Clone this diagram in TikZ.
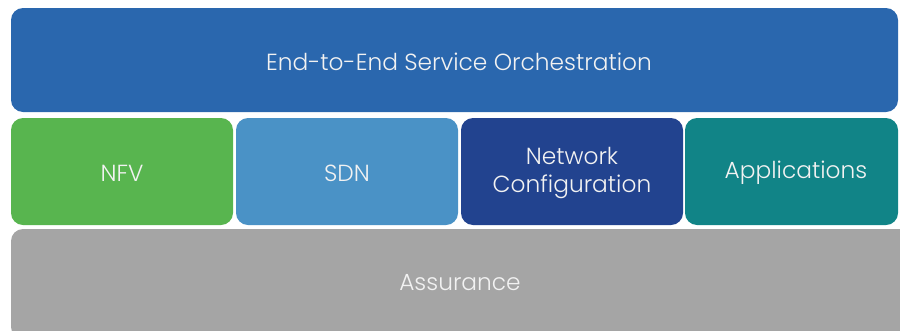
\documentclass[tikz,border=0pt]{standalone}
\usepackage{fontspec}
\setmainfont{Poppins Light}
\definecolor{orch}{HTML}{2A67AE}
\definecolor{nfv}{HTML}{58B54F}
\definecolor{sdn}{HTML}{4A92C6}
\definecolor{netc}{HTML}{22438F}
\definecolor{apps}{HTML}{118487}
\definecolor{assur}{HTML}{A5A5A5}
\definecolor{txt}{HTML}{F2F2F2}
\begin{document}
\begin{tikzpicture}[x=1pt,y=-1pt,
  layer/.style={rectangle,rounded corners=12pt,draw=none,inner sep=0pt,outer sep=0pt,
    text=txt,font=\fontsize{23.3}{28}\selectfont,align=center,anchor=north west},
  label text/.style={text=txt,font=\fontsize{23.3}{28}\selectfont,align=center,inner sep=0pt}]
\useasboundingbox (0,0) rectangle (900,330);
\clip (0,0) rectangle (900,330);
\node[layer,fill=orch,minimum width=887pt,minimum height=104pt] (orchestration) at (11,8) {};
\node[label text] (orchtext) at (459,62) {End-to-End Service Orchestration};
\node[layer,fill=nfv,minimum width=222pt,minimum height=107pt] (nfvbox) at (11,118) {};
\node[label text] (nfvtext) at (122,173) {NFV};
\node[layer,fill=sdn,minimum width=222pt,minimum height=107pt] (sdnbox) at (236,118) {};
\node[label text] (sdntext) at (347,173) {SDN};
\node[layer,fill=netc,minimum width=222pt,minimum height=107pt] (netconf) at (461,118) {};
\node[label text] (netconftext) at (572,173) {Network\\Configuration};
\node[layer,fill=apps,minimum width=213pt,minimum height=107pt] (applications) at (685,118) {};
\node[label text] (appstext) at (796,173) {Applications};
\node[layer,fill=assur,minimum width=900pt,minimum height=110pt] (assurance) at (11,229) {};
\node[label text] (assurancetext) at (460,283) {Assurance};
\end{tikzpicture}
\end{document}
